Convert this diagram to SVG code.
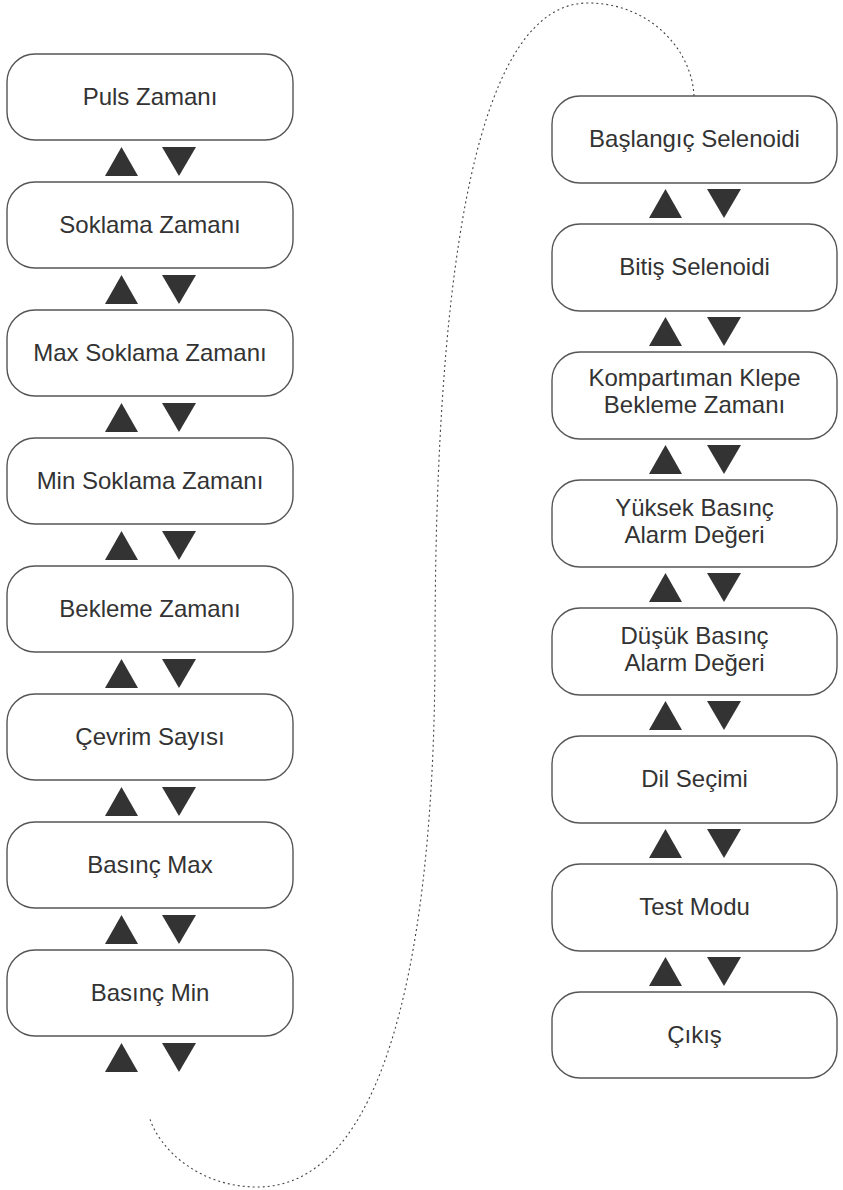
<svg xmlns="http://www.w3.org/2000/svg" width="843" height="1190" viewBox="0 0 843 1190">
<defs>
<style>
.box{fill:#fff;stroke:#555;stroke-width:1.4}
.t{font-family:"Liberation Sans",Arial,sans-serif;font-size:24px;fill:#333;text-anchor:middle}
.tri{fill:#333}
.dot{fill:none;stroke:#444;stroke-width:1.1;stroke-dasharray:2 3}
</style>
<polygon id="up" class="tri" points="0,29 33,29 16.5,0"/>
<polygon id="dn" class="tri" points="0,0 34,0 17,29"/>
</defs>
<rect width="843" height="1190" fill="#fff"/>
<g id="connectors">
<path class="dot" d="M694,96 C692,50 650,3 588,3 C480,3 435,250 435,650 C435,900 400,1187 257,1187 C200,1187 160,1150 150,1119"/>
<g id="left-arrows">
<use href="#up" x="105" y="147"/><use href="#dn" x="162" y="147"/>
<use href="#up" x="105" y="275"/><use href="#dn" x="162" y="275"/>
<use href="#up" x="105" y="403"/><use href="#dn" x="162" y="403"/>
<use href="#up" x="105" y="531"/><use href="#dn" x="162" y="531"/>
<use href="#up" x="105" y="659"/><use href="#dn" x="162" y="659"/>
<use href="#up" x="105" y="787"/><use href="#dn" x="162" y="787"/>
<use href="#up" x="105" y="915"/><use href="#dn" x="162" y="915"/>
<use href="#up" x="105" y="1043"/><use href="#dn" x="162" y="1043"/>
</g>
<g id="right-arrows">
<use href="#up" x="649" y="189"/><use href="#dn" x="707" y="189"/>
<use href="#up" x="649" y="317"/><use href="#dn" x="707" y="317"/>
<use href="#up" x="649" y="445"/><use href="#dn" x="707" y="445"/>
<use href="#up" x="649" y="573"/><use href="#dn" x="707" y="573"/>
<use href="#up" x="649" y="701"/><use href="#dn" x="707" y="701"/>
<use href="#up" x="649" y="829"/><use href="#dn" x="707" y="829"/>
<use href="#up" x="649" y="957"/><use href="#dn" x="707" y="957"/>
</g>
</g>
<g id="n1"><rect class="box" x="7" y="54" width="286" height="86" rx="28"/><text class="t" x="150" y="105">Puls Zamanı</text></g>
<g id="n2"><rect class="box" x="7" y="182" width="286" height="86" rx="28"/><text class="t" x="150" y="233">Soklama Zamanı</text></g>
<g id="n3"><rect class="box" x="7" y="310" width="286" height="86" rx="28"/><text class="t" x="150" y="361">Max Soklama Zamanı</text></g>
<g id="n4"><rect class="box" x="7" y="438" width="286" height="86" rx="28"/><text class="t" x="150" y="489">Min Soklama Zamanı</text></g>
<g id="n5"><rect class="box" x="7" y="566" width="286" height="86" rx="28"/><text class="t" x="150" y="617">Bekleme Zamanı</text></g>
<g id="n6"><rect class="box" x="7" y="694" width="286" height="86" rx="28"/><text class="t" x="150" y="745">Çevrim Sayısı</text></g>
<g id="n7"><rect class="box" x="7" y="822" width="286" height="86" rx="28"/><text class="t" x="150" y="873">Basınç Max</text></g>
<g id="n8"><rect class="box" x="7" y="950" width="286" height="86" rx="28"/><text class="t" x="150" y="1001">Basınç Min</text></g>
<g id="n9"><rect class="box" x="552" y="96" width="285" height="87" rx="28"/><text class="t" x="694.5" y="147">Başlangıç Selenoidi</text></g>
<g id="n10"><rect class="box" x="552" y="224" width="285" height="87" rx="28"/><text class="t" x="694.5" y="275">Bitiş Selenoidi</text></g>
<g id="n11"><rect class="box" x="552" y="352" width="285" height="87" rx="28"/><text class="t" x="694.5" y="386">Kompartıman Klepe</text><text class="t" x="694.5" y="413">Bekleme Zamanı</text></g>
<g id="n12"><rect class="box" x="552" y="480" width="285" height="87" rx="28"/><text class="t" x="694.5" y="516">Yüksek Basınç</text><text class="t" x="694.5" y="543">Alarm Değeri</text></g>
<g id="n13"><rect class="box" x="552" y="608" width="285" height="87" rx="28"/><text class="t" x="694.5" y="644">Düşük Basınç</text><text class="t" x="694.5" y="671">Alarm Değeri</text></g>
<g id="n14"><rect class="box" x="552" y="736" width="285" height="87" rx="28"/><text class="t" x="694.5" y="787">Dil Seçimi</text></g>
<g id="n15"><rect class="box" x="552" y="864" width="285" height="87" rx="28"/><text class="t" x="694.5" y="915">Test Modu</text></g>
<g id="n16"><rect class="box" x="552" y="992" width="285" height="86" rx="28"/><text class="t" x="694.5" y="1043">Çıkış</text></g>
</svg>
